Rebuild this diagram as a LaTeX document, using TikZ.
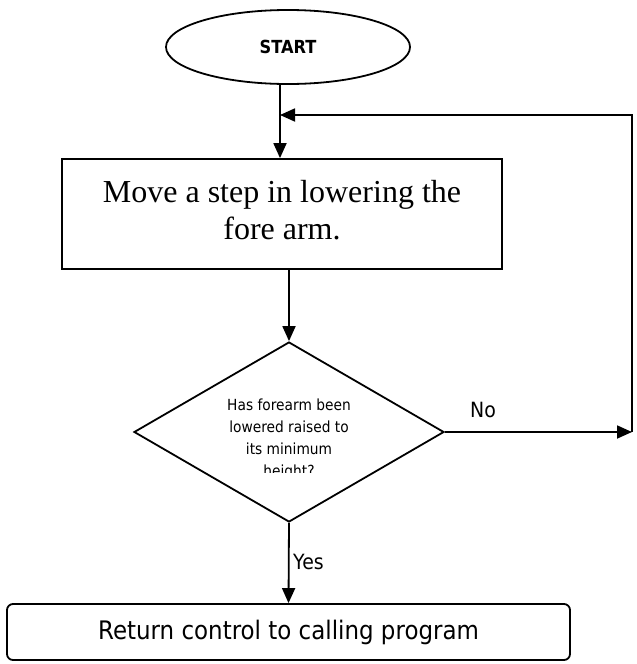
\documentclass[tikz,border=0pt]{standalone}
\usepackage{fontspec}
\setmainfont{Liberation Serif}
\newfontfamily\tah[FakeStretch=0.9]{DejaVu Sans}
\usetikzlibrary{shapes.geometric,arrows.meta}
\begin{document}
\begin{tikzpicture}[x=1pt,y=-1pt,
  line/.style={line width=1.8pt},
  arr/.style={line width=1.8pt,-{Triangle[length=15pt,width=13pt]}},
  shapebox/.style={draw,line width=1.8pt,inner sep=0pt},
  lbl/.style={font=\tah\fontsize{21}{24}\selectfont,inner sep=0pt}]
\useasboundingbox (0,0) rectangle (637,664);
\node[shapebox,ellipse,minimum width=244pt,minimum height=74pt] (start) at (288,47)
  {\tah\bfseries\fontsize{18}{20}\selectfont START};
\node[shapebox,minimum width=440pt,minimum height=110pt] (move) at (282,214) {};
\node[align=center,inner sep=0pt,font=\fontsize{32}{37}\selectfont] (movetext) at (282,210)
  {Move a step in lowering the\\fore arm.};
\node[shapebox,diamond,minimum width=310pt,minimum height=180pt] (dec) at (289,432) {};
\begin{scope}
  \clip (130,380) rectangle (450,472);
  \node[align=center,inner sep=0pt,font=\tah\fontsize{15.3}{22}\selectfont] (dectext) at (289,439)
    {Has forearm been\\lowered raised to\\its minimum\\height?};
\end{scope}
\node[shapebox,rounded corners=6pt,minimum width=563pt,minimum height=56pt,
  font=\tah\fontsize{25.5}{28}\selectfont] (ret) at (288.5,632)
  {Return control to calling program};
\coordinate (loopin) at (280,115);
\coordinate (corner) at (632,115);
\coordinate (noend) at (632,432);
\draw[arr] (start.south -| loopin) -- (move.north -| loopin);
\draw[arr] (move.south -| dec.north) -- (dec.north);
\draw[arr] (dec.south) -- (ret.north);
\draw[arr] (dec.east) -- (noend);
\draw[arr] (noend) -- (corner) -- (loopin);
\node[lbl,anchor=west] (yes) at (293,562) {Yes};
\node[lbl] (no) at (483,410) {No};
\end{tikzpicture}
\end{document}
